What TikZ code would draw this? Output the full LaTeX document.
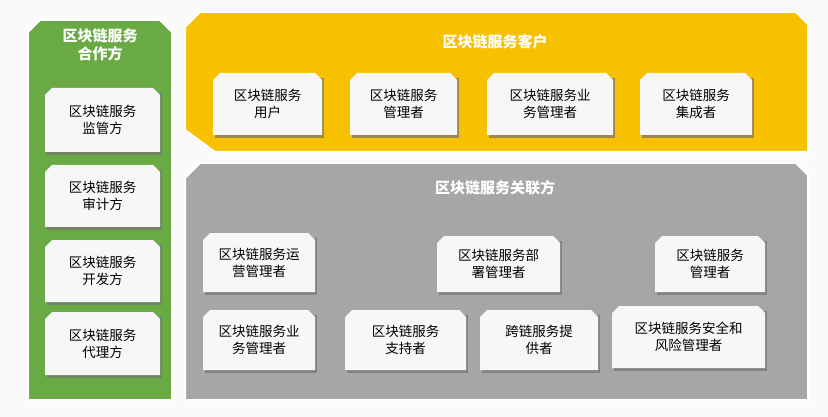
\documentclass[tikz,border=0pt]{standalone}
\usepackage{fontspec}
\setmainfont{Noto Sans CJK SC}
\begin{document}
\begin{tikzpicture}[x=1pt,y=-1pt,
 item/.style={inner sep=0pt,anchor=center,align=center,font=\fontsize{13.5}{17}\selectfont},
 ttl/.style={text=white,font=\bfseries\fontsize{15}{18}\selectfont,align=center}]
\definecolor{gr}{RGB}{106,170,68}
\definecolor{ye}{RGB}{247,193,0}
\definecolor{gy}{RGB}{166,166,166}
\useasboundingbox[fill=gray!4] (0,0) rectangle (828,417);
% panels
\fill[gr,draw=white,line width=2pt] (40,20) -- (160,20) -- (172,32) -- (172,400) -- (28,400) -- (28,32) -- cycle;
\fill[ye,draw=white,line width=2pt] (200,12) -- (796,12) -- (808,24) -- (808,152) -- (215,152) -- (185,130) -- (185,27) -- cycle;
\fill[gy,draw=white,line width=2pt] (200,163) -- (796,163) -- (808,175) -- (808,400) -- (185,400) -- (185,178) -- cycle;
\node[ttl] (gt) at (100,45) {区块链服务\\合作方};
\node[ttl] (yt) at (495,42) {区块链服务客户};
\node[ttl] (rt) at (495,188) {区块链服务关联方};
\foreach \n/\x/\y/\w/\h/\t in {
 g1/45/88/115/64/{区块链服务\\监管方},
 g2/45/165/115/62/{区块链服务\\审计方},
 g3/45/240/115/62/{区块链服务\\开发方},
 g4/45/312/115/63/{区块链服务\\代理方},
 y1/213/73/109/62/{区块链服务\\用户},
 y2/350/73/107/62/{区块链服务\\管理者},
 y3/487/73/126/62/{区块链服务业\\务管理者},
 y4/640/73/112/62/{区块链服务\\集成者},
 r1/203/233/112/59/{区块链服务运\\营管理者},
 r2/437/236/123/56/{区块链服务部\\署管理者},
 r3/655/236/110/56/{区块链服务\\管理者},
 r4/203/310/112/60/{区块链服务业\\务管理者},
 r5/345/310/121/60/{区块链服务\\支持者},
 r6/480/310/118/60/{跨链服务提\\供者},
 r7/612/306/153/62/{区块链服务安全和\\风险管理者}}
{
 \fill[black!55,opacity=.7] (\x+2,\y+5) rectangle (\x+\w+2,\y+\h+3);
 \fill[gray!6] (\x+7,\y) -- (\x+\w-7,\y) -- (\x+\w,\y+7) -- (\x+\w,\y+\h) -- (\x,\y+\h) -- (\x,\y+7) -- cycle;
 \node[item] (\n) at (\x+\w/2,\y+\h/2) {\t};
}
\end{tikzpicture}
\end{document}
